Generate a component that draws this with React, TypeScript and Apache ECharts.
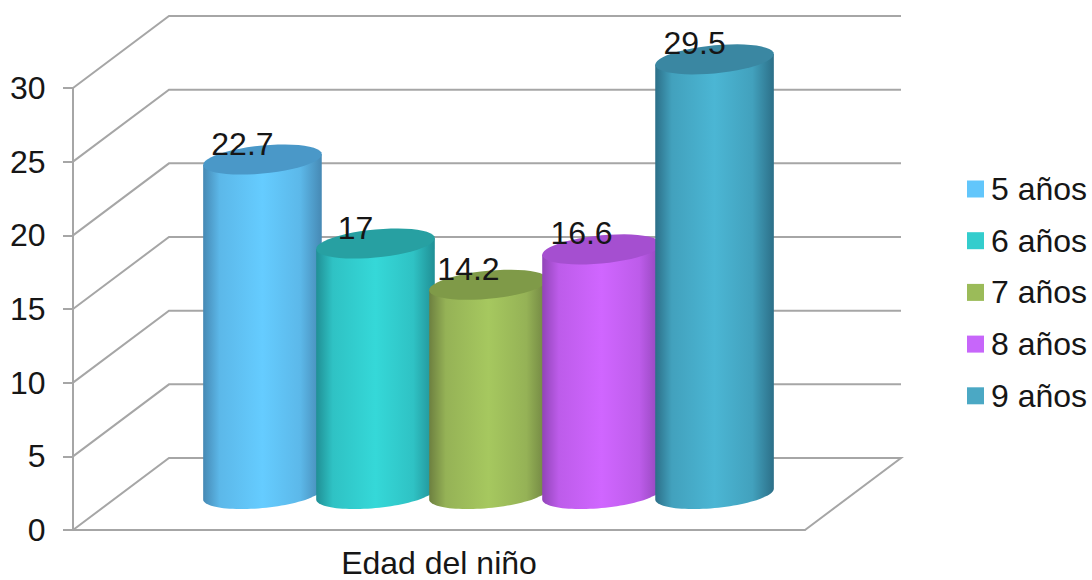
import React, { useEffect, useRef } from "react";
import * as echarts from "echarts";

const categories = ["Edad del niño"];
const seriesNames = ["5 años", "6 años", "7 años", "8 años", "9 años"];
const seriesValues = [22.7, 17, 14.2, 16.6, 29.5];
const yTicks = [0, 5, 10, 15, 20, 25, 30];

const mainColors = ["#65ccff", "#35d8d8", "#a6c85f", "#d066ff", "#4bb6d4"];
const edgeColors = ["#4689b4", "#208f95", "#6d8040", "#9145b8", "#2c6f88"];
const capColors = ["#4a98c8", "#27a0a2", "#7f9a48", "#a54fd0", "#3a87a2"];
const legendColors = ["#62c6fb", "#33cdcd", "#9bbb59", "#c766fa", "#4ba8c4"];

const FONT = '"Liberation Sans", Arial, sans-serif';
const FONT_SIZE = 32;
const TEXT = "#161616";
const GRID_LINE = "#a6a6a6";

// Oblique projection of the chart box: how far the back wall sits from the front plane.
const DEPTH_X = 96;
const DEPTH_Y = -72;

// Cylinder shape, relative to the category band where noted.
const STEP_RATIO = 0.1544;
const RADIUS_RATIO = 0.527;
const BAR_SHIFT = 49.5;
const ELLIPSE_RY = 14;
const ELLIPSE_TILT = (-5.5 * Math.PI) / 180;
const ARC_STEPS = 48;

// Samples a tilted ellipse, starting at parameter `from` and going round by `sweep`.
function ellipseArc(cx: number, cy: number, rx: number, ry: number, from: number, sweep: number) {
  const cos = Math.cos(ELLIPSE_TILT);
  const sin = Math.sin(ELLIPSE_TILT);
  const points: number[][] = [];
  for (let k = 0; k <= ARC_STEPS; k++) {
    const t = from + (sweep * k) / ARC_STEPS;
    points.push([
      cx + rx * Math.cos(t) * cos - ry * Math.sin(t) * sin,
      cy + rx * Math.cos(t) * sin + ry * Math.sin(t) * cos,
    ]);
  }
  return points;
}

function renderWalls(params: any, api: any) {
  const y = api.coord([0, api.value(1)])[1];
  const box = params.coordSys;
  const left = box.x;
  const right = box.x + box.width;
  const backY = y + DEPTH_Y;
  const points = [
    [left, y],
    [left + DEPTH_X, backY],
    [right + DEPTH_X, backY],
  ];
  // The floor also closes on its right-hand side.
  if (api.value(1) === 0) points.push([right, y]);
  return {
    type: "polyline",
    shape: { points },
    z2: 0,
    style: { fill: "none", stroke: GRID_LINE, lineWidth: 2 },
  };
}

function renderCylinder(index: number) {
  return (_params: any, api: any) => {
    const value = api.value(1);
    const base = api.coord([api.value(0), 0]);
    const top = api.coord([api.value(0), value]);
    const band = api.size([1, 0])[0];
    const cx = base[0] + BAR_SHIFT + (index - 2) * band * STEP_RATIO;
    const rx = band * STEP_RATIO * RADIUS_RATIO;
    const topY = top[1] + DEPTH_Y / 2;
    const baseY = base[1] + DEPTH_Y / 2;

    // Parameter of the ellipse's rightmost point, where the straight sides touch it.
    const t0 = Math.atan2(
      -ELLIPSE_RY * Math.sin(ELLIPSE_TILT),
      rx * Math.cos(ELLIPSE_TILT)
    );
    const frontArc = ellipseArc(cx, baseY, rx, ELLIPSE_RY, t0, Math.PI);
    const topHalf = ellipseArc(cx, topY, rx, ELLIPSE_RY, t0, Math.PI);
    const bodyPoints = [...frontArc, topHalf[ARC_STEPS], topHalf[0]];
    const capPoints = ellipseArc(cx, topY, rx, ELLIPSE_RY, t0, Math.PI * 2);

    const main = mainColors[index];
    const edge = edgeColors[index];
    const mid = echarts.color.lerp(0.7, [edge, main]);

    return {
      type: "group",
      children: [
        {
          type: "polygon",
          z2: 10 + index * 2,
          shape: { points: bodyPoints },
          style: {
            fill: new echarts.graphic.LinearGradient(0, 0, 1, 0, [
              { offset: 0, color: edge },
              { offset: 0.14, color: mid },
              { offset: 0.5, color: main },
              { offset: 0.82, color: mid },
              { offset: 1, color: edge },
            ]),
          },
        },
        {
          type: "polygon",
          z2: 11 + index * 2,
          shape: { points: capPoints },
          style: { fill: capColors[index] },
        },
        {
          type: "text",
          z2: 100,
          x: cx - 20,
          y: topY - 16,
          style: {
            text: String(value),
            fontSize: FONT_SIZE,
            fontFamily: FONT,
            fill: TEXT,
            align: "center",
            verticalAlign: "middle",
          },
        },
      ],
    };
  };
}

export default function App() {
  const ref = useRef<HTMLDivElement>(null);

  useEffect(() => {
    document.body.style.margin = "0";
    document.body.style.overflow = "hidden";
    const chart = echarts.init(ref.current!, null, { renderer: "svg" });
    chart.setOption({
      animation: false,
      backgroundColor: "#ffffff",
      grid: { left: 73, top: 88, width: 732, height: 442 },
      legend: {
        data: seriesNames,
        orient: "vertical",
        left: 962,
        top: 168,
        icon: "rect",
        itemWidth: 17,
        itemHeight: 17,
        itemGap: 19.7,
        selectedMode: false,
        textStyle: {
          fontSize: FONT_SIZE,
          fontFamily: FONT,
          color: TEXT,
          padding: [0, 0, 0, 2],
        },
      },
      xAxis: {
        type: "category",
        data: categories,
        axisLine: { lineStyle: { color: GRID_LINE, width: 2 } },
        axisTick: { length: 10, lineStyle: { color: GRID_LINE, width: 2 } },
        axisLabel: { fontSize: FONT_SIZE, fontFamily: FONT, color: TEXT, margin: 17 },
      },
      yAxis: {
        type: "value",
        min: 0,
        max: 30,
        interval: 5,
        axisLine: { show: true, lineStyle: { color: GRID_LINE, width: 2 } },
        axisTick: { show: true, length: 10, lineStyle: { color: GRID_LINE, width: 2 } },
        axisLabel: { fontSize: FONT_SIZE, fontFamily: FONT, color: TEXT, margin: 27.5 },
        splitLine: { show: false },
      },
      series: [
        {
          type: "custom",
          name: "walls",
          silent: true,
          renderItem: renderWalls,
          encode: { x: 0, y: 1 },
          data: yTicks.map((tick) => [0, tick]),
        },
        ...seriesNames.map((name, index) => ({
          type: "custom",
          name,
          color: legendColors[index],
          itemStyle: { color: legendColors[index] },
          renderItem: renderCylinder(index),
          encode: { x: 0, y: 1 },
          data: [[0, seriesValues[index]]],
        })),
      ],
    });
    return () => chart.dispose();
  }, []);

  return <div ref={ref} style={{ width: 1092, height: 580 }} />;
}
